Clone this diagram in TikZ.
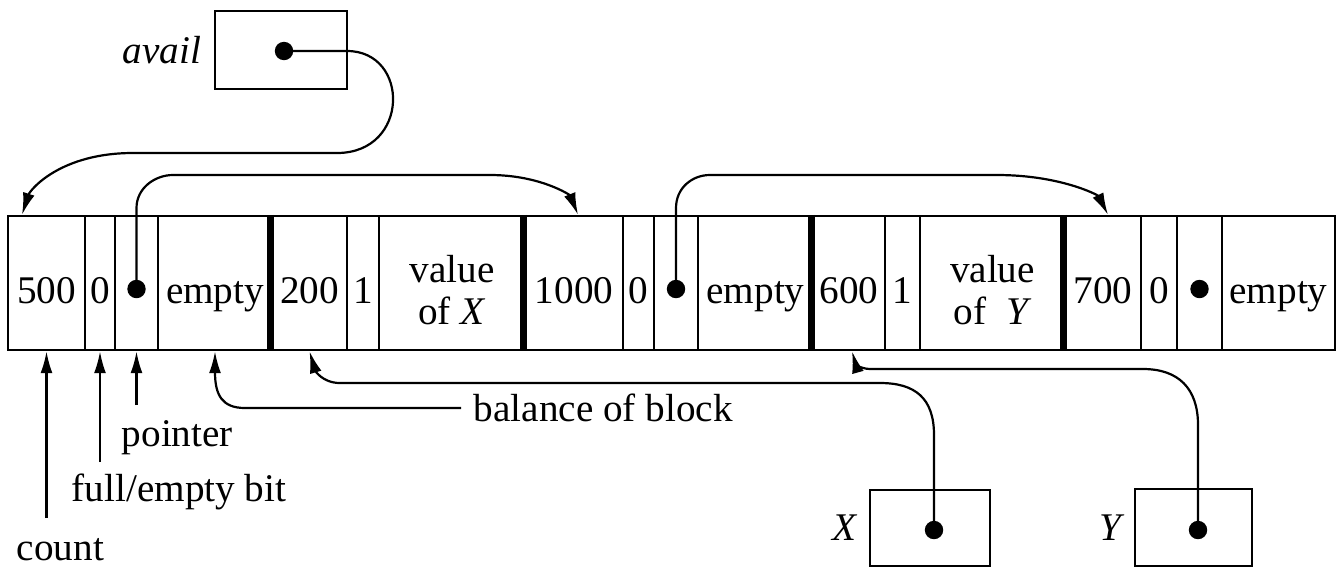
\documentclass[tikz,border=0pt]{standalone}
\usepackage{fontspec}
\setmainfont{Liberation Serif}
\usetikzlibrary{arrows.meta,positioning}

\begin{document}
\begin{tikzpicture}[x=0.25pt, y=-0.25pt,
  every node/.style={font=\fontsize{9.8}{10.5}\selectfont},
  cell/.style={draw, line width=0.6pt, inner sep=0pt, minimum height=33.5pt, align=center},
  blocksep/.style={line width=1.8pt},
  ptrbox/.style={draw, line width=0.6pt, inner sep=0pt},
  dot/.style={circle, fill, inner sep=0pt, minimum size=4.6pt},
  ptr/.style={-{Latex[length=5.5pt,width=3pt]}, line width=0.55pt},
  lbl/.style={inner sep=0pt, anchor=west},
  varname/.style={inner sep=0pt, font=\fontsize{9.8}{10.5}\selectfont\itshape}]
  \useasboundingbox (0,0) rectangle (1336,568);
  % Storage strip
  \foreach \name/\l/\r/\txt in {c1/8/85/500, c2/85/115/0, c3/115/158/{}, c4/158/272/empty,
      c5/272/347/200, c6/347/379/1, c7/379/525/{value\\of \textit{X}},
      c8/525/623/1000, c9/623/654/0, c10/654/698/{}, c11/698/813/empty,
      c12/813/885/600, c13/885/920/1, c14/920/1065/{value\\of \ \textit{Y}},
      c15/1065/1141/700, c16/1141/1177/0, c17/1177/1222/{}, c18/1222/1335/empty}
    \node[cell, minimum width={(\r-\l)*0.25pt}] (\name) at ({(\l+\r)/2},283)
      {\rule[-0.22em]{0pt}{1.48em}\txt\vphantom{y}};
  % Block boundaries
  \foreach \c in {c5,c8,c12,c15}
    \draw[blocksep] (\c.north west) -- (\c.south west);
  % Pointer fields
  \node[dot] (d1) at ([yshift=-1.5pt]c3) {};
  \node[dot] (d2) at ([yshift=-1.5pt]c10) {};
  \node[dot] (d3) at ([yshift=-1.5pt]c17) {};
  % Pointer variables
  \node[ptrbox, minimum width=33pt, minimum height=19.5pt] (availbox) at (281,50) {};
  \node[dot] (availdot) at (284,51) {};
  \node[varname, left=3pt of availbox] (availname) {avail};
  \node[ptrbox, minimum width=30pt, minimum height=19pt] (xbox) at (930,528) {};
  \node[dot] (xdot) at (934,530) {};
  \node[varname, left=3pt of xbox] (xname) {X};
  \node[ptrbox, minimum width=29.25pt, minimum height=19.25pt] (ybox) at (1193.5,527.5) {};
  \node[dot] (ydot) at (1198,530) {};
  \node[varname, left=3pt of ybox] (yname) {Y};
  % avail pointer
  \draw[ptr] (availdot.center) -- (347,51) .. controls (410,51) and (410,153) .. (337,153)
    -- (133,153) .. controls (60,153) and (30,190) .. (c1.north -| 22,0);
  % Free list links
  \draw[ptr] (d1.center) -- (d1 |- 0,208) .. controls (d1 |- 0,188) and (155,175) .. (173,175)
    -- (490,175) .. controls (540,175) and (570,195) .. ([xshift=1pt]c8.north);
  \draw[ptr] (d2.center) -- (d2 |- 0,208) .. controls (d2 |- 0,188) and (692,175) .. (710,175)
    -- (997,175) .. controls (1060,175) and (1098,195) .. ([xshift=1.25pt]c15.north);
  % Field labels
  \node[lbl] (countlbl) at (16,550) {count};
  \node[lbl] (bitlbl) at (71,492) {full/empty bit};
  \node[lbl] (pointerlbl) at (121,438) {pointer};
  \draw[ptr] (c1.south |- 0,518) -- (c1.south);
  \draw[ptr] (c2.south |- 0,462) -- (c2.south);
  \draw[ptr] (c3.south |- 0,405) -- (c3.south);
  % Balance of block
  \node[lbl, inner xsep=3pt] (balance) at (461,408) {balance of block};
  \draw[ptr] (balance.west) -- (245,408) .. controls (222,408) and (c4.south |- 0,395)
    .. (c4.south |- 0,372) -- (c4.south);
  % X and Y pointers
  \draw[ptr] (xdot.center) -- (xdot |- 0,435) .. controls (xdot |- 0,398) and (915,383) .. (880,383)
    -- (340,383) .. controls (322,383) and (315,370) .. (c5.south);
  \draw[ptr] (ydot.center) -- (ydot |- 0,425) .. controls (ydot |- 0,388) and (1178,369) .. (1143,369)
    -- (870,369) .. controls (860,369) and (855,362) .. ([xshift=0.75pt]c12.south);
\end{tikzpicture}
\end{document}
